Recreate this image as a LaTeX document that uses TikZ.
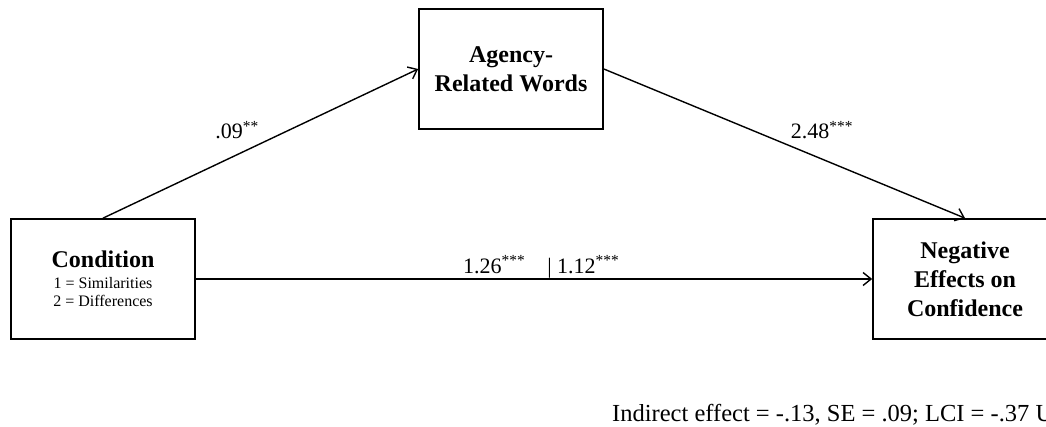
\documentclass[tikz,border=0pt]{standalone}
\usepackage{fontspec}
\setmainfont{Liberation Serif}
\usetikzlibrary{arrows.meta}

\tikzset{
  varbox/.style={draw, line width=1.7pt, minimum width=184pt, minimum height=120pt,
    align=center, inner sep=0pt},
  pathlbl/.style={font=\fontsize{22}{26}\selectfont, inner sep=0pt},
  path arrow/.style={line width=1.4pt, -{Straight Barb[length=8pt,width=13pt,line width=1.4pt]}}
}

\begin{document}
\begin{tikzpicture}[x=1pt,y=-1pt]
            \useasboundingbox (0,0) rectangle (1046,426);
            \clip (0,0) rectangle (1046,426);

            \node[varbox, font=\fontsize{16}{18}\selectfont] (cond) at (103, 279)
              {{\fontsize{24}{29}\selectfont\bfseries Condition}\\[3pt]
               1 = Similarities\\
               2 = Differences};
            \node[varbox, font=\fontsize{24}{29}\selectfont\bfseries] (agency) at (511, 69)
              {Agency-\\Related Words};
            \node[varbox, font=\fontsize{24}{29}\selectfont\bfseries] (neg) at (965, 279)
              {Negative\\Effects on\\Confidence};

            \draw[path arrow] (cond.north) -- (agency.west);
            \draw[path arrow] (agency.east) -- (neg.north);
            \draw[path arrow] (cond.east) -- (neg.west);

            \node[pathlbl] (a) at (237, 130) {.09\textsuperscript{**}};
            \node[pathlbl] (b) at (822, 130) {2.48\textsuperscript{***}};
            \node[pathlbl, anchor=base west] (c) at (463, 273)
              {1.26\textsuperscript{***}\quad| 1.12\textsuperscript{***}};

            \node[anchor=base west, inner sep=0pt, font=\fontsize{24.5}{29}\selectfont] (ind) at (612, 421)
              {Indirect effect = -.13, SE = .09; LCI = -.37 U};
\end{tikzpicture}
\end{document}
